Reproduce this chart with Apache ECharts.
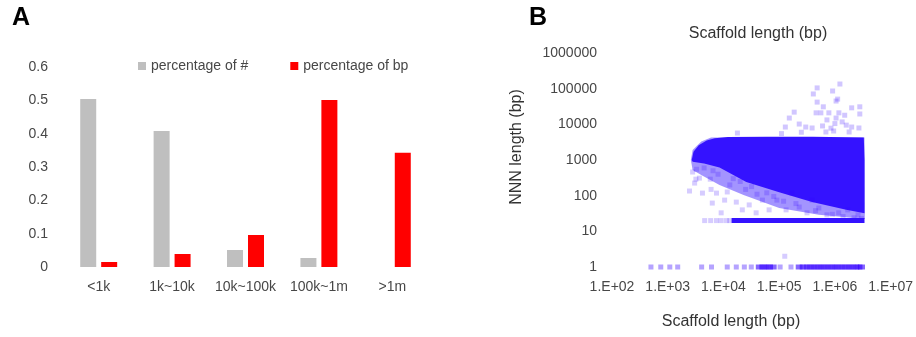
<!DOCTYPE html>
<html>
<head>
<meta charset="utf-8">
<script src="https://cdn.jsdelivr.net/npm/echarts@6/dist/echarts.min.js"></script>
<style>
  html, body { margin: 0; padding: 0; background: #ffffff; }
  #chart { width: 916px; height: 337px; }
</style>
</head>
<body>
<div id="chart"></div>
<script>
// ---- Panel A: scaffold size classes ----
const sizeClasses = ['<1k', '1k~10k', '10k~100k', '100k~1m', '>1m'];
const pctCount = [0.504, 0.408, 0.051, 0.027, 0];
const pctBp = [0.015, 0.039, 0.096, 0.501, 0.343];

// ---- Panel B: NNN gap length vs scaffold length (bp) ----
// dense body of the cloud, outlined as [scaffold length, NNN length]
const cloudHalo = [
  [2600, 1000], [2800, 1900], [4000, 3300], [6000, 4300], [3400000, 4300],
  [3450000, 22], [515000, 29], [100000, 45], [23000, 105], [8500, 200],
  [4000, 380], [2800, 525]
];
const cloudCore = [
  [2700, 1000], [2900, 1700], [3600, 2600], [5000, 3500], [7000, 4100],
  [12000, 4400], [60000, 4500], [400000, 4500], [3300000, 4300],
  [3400000, 1000], [3400000, 60], [3400000, 32], [1600000, 40],
  [390000, 66], [100000, 125], [25700, 240], [8500, 620], [4500, 800], [2800, 900]
];
// minimum gap run at 20 bp
const gapFloorRun = [[14000, 20], [3400000, 20]];
// scattered long gaps above the cloud
const highGaps = [
  [1230000, 135000], [480000, 105000], [410000, 71000], [910000, 86000],
  [1120000, 51000], [1050000, 45000], [480000, 42000], [620000, 31000],
  [2000000, 29000], [2800000, 31000], [2800000, 19500], [460000, 21000],
  [186000, 22000], [152000, 15000], [1180000, 21000], [780000, 21000],
  [560000, 21000], [720000, 13300], [1050000, 15000], [1350000, 11700],
  [229000, 10200], [129000, 8400], [300000, 8400], [390000, 7900],
  [2000000, 8400], [2700000, 7900], [1600000, 9500], [850000, 7800],
  [17800, 5700], [690000, 6100], [1800000, 6100], [1000000, 10500],
  [600000, 9000], [1500000, 18000], [950000, 6500], [250000, 6000], [110000, 5500]
];
// scattered short gaps below the cloud
const lowGaps = [
  [2460, 135], [4200, 118], [3040, 225], [2800, 460], [3700, 310], [7500, 118],
  [6300, 62], [10500, 75], [9100, 33], [11700, 127], [17000, 66], [21800, 40],
  [29000, 55], [38600, 33], [50000, 75], [66000, 40], [91000, 75], [133000, 40],
  [170000, 118], [229000, 48], [316000, 33], [390000, 75], [515000, 45],
  [720000, 29], [1170000, 33], [1700000, 40], [2600000, 29], [3200, 290],
  [5800, 290], [6000, 150], [13000, 200], [8000, 400], [25000, 150], [40000, 110],
  [4500, 600], [6500, 500], [3300, 550], [15000, 300], [20000, 250], [32000, 180],
  [60000, 120], [80000, 95], [120000, 70], [200000, 60], [450000, 38],
  [900000, 30], [1400000, 26], [2200000, 24], [3000000, 23],
  [4600, 20], [5900, 20], [7500, 20], [9100, 20], [11300, 20], [13000, 20],
  [126000, 2]
];
// single-N gaps
const oneGapsSparse = [
  [500, 1], [750, 1], [1090, 1], [1510, 1], [4060, 1], [6100, 1], [11700, 1],
  [17000, 1], [23700, 1], [31600, 1], [104000, 1], [163000, 1]
];
const oneGapsDense = [
  [44000, 1], [51000, 1], [58400, 1], [67000, 1], [78000, 1], [229000, 1],
  [270000, 1], [316000, 1], [365000, 1], [422000, 1], [490000, 1], [563000, 1],
  [650000, 1], [750000, 1], [870000, 1], [1000000, 1], [1150000, 1], [1330000, 1],
  [1540000, 1], [1780000, 1], [2050000, 1], [2370000, 1], [2700000, 1], [3000000, 1]
];

const FONT = 'Liberation Sans, Arial, sans-serif';
const TEXT = '#474747';
const BLUE = '#3412ff';

function outlineRenderer(vertices, fill) {
  return function (params, api) {
    if (params.dataIndex !== 0) return null;
    return {
      type: 'polygon',
      shape: { points: vertices.map(v => api.coord(v)) },
      style: { fill: fill }
    };
  };
}

const chart = echarts.init(document.getElementById('chart'), null, { renderer: 'canvas' });

chart.setOption({
  animation: false,
  backgroundColor: '#ffffff',
  textStyle: { fontFamily: FONT },
  graphic: [
    { type: 'text', left: 12, top: 6, style: { text: 'A', font: 'bold 25px ' + FONT, fill: '#000' } },
    { type: 'text', left: 529, top: 6, style: { text: 'B', font: 'bold 25px ' + FONT, fill: '#000' } },
    { type: 'text', x: 758, y: 34, style: { text: 'Scaffold length (bp)', font: '16px ' + FONT, fill: '#333', textAlign: 'center', textVerticalAlign: 'middle' } },
    { type: 'text', x: 731, y: 322, style: { text: 'Scaffold length (bp)', font: '16px ' + FONT, fill: '#333', textAlign: 'center', textVerticalAlign: 'middle' } },
    { type: 'text', x: 517, y: 147, rotation: Math.PI / 2, style: { text: 'NNN length (bp)', font: '16px ' + FONT, fill: '#333', textAlign: 'center', textVerticalAlign: 'middle' } }
  ],
  legend: {
    data: ['percentage of #', 'percentage of bp'],
    left: 133,
    top: 54,
    icon: 'rect',
    itemWidth: 8,
    itemHeight: 8,
    itemGap: 42,
    textStyle: { color: TEXT, fontSize: 14, fontFamily: FONT }
  },
  grid: [
    { left: 62, top: 67, width: 367, height: 200 },
    { left: 612, top: 53, width: 280, height: 214 }
  ],
  xAxis: [
    {
      gridIndex: 0, type: 'category', data: sizeClasses,
      axisLine: { show: false }, axisTick: { show: false },
      axisLabel: { color: TEXT, fontSize: 14, margin: 13, interval: 0 }
    },
    {
      gridIndex: 1, type: 'log', logBase: 10, min: 100, max: 10000000, interval: 1,
      axisLine: { show: false }, axisTick: { show: false }, splitLine: { show: false },
      axisLabel: {
        color: TEXT, fontSize: 14, margin: 13,
        formatter: v => '1.E+' + String(Math.round(Math.log10(v))).padStart(2, '0')
      }
    }
  ],
  yAxis: [
    {
      gridIndex: 0, type: 'value', min: 0, max: 0.6, interval: 0.1,
      axisLine: { show: false }, axisTick: { show: false }, splitLine: { show: false },
      axisLabel: { color: TEXT, fontSize: 14, margin: 14, formatter: v => (Math.round(v * 10) / 10).toString() }
    },
    {
      gridIndex: 1, type: 'log', logBase: 10, min: 1, max: 1000000, interval: 1,
      axisLine: { show: false }, axisTick: { show: false }, splitLine: { show: false },
      axisLabel: { color: TEXT, fontSize: 14, margin: 15, formatter: v => String(Math.round(v)) }
    }
  ],
  series: [
    {
      name: 'percentage of #', type: 'bar', xAxisIndex: 0, yAxisIndex: 0,
      data: pctCount, barWidth: 16, barGap: '31%',
      itemStyle: { color: '#bfbfbf' }
    },
    {
      name: 'percentage of bp', type: 'bar', xAxisIndex: 0, yAxisIndex: 0,
      data: pctBp, barWidth: 16, barGap: '31%',
      itemStyle: { color: '#ff0000' }
    },
    {
      type: 'custom', xAxisIndex: 1, yAxisIndex: 1, data: cloudHalo,
      renderItem: outlineRenderer(cloudHalo, 'rgba(52,18,255,0.45)'), silent: true
    },
    {
      type: 'custom', xAxisIndex: 1, yAxisIndex: 1, data: cloudCore,
      renderItem: outlineRenderer(cloudCore, BLUE), silent: true
    },
    {
      type: 'line', xAxisIndex: 1, yAxisIndex: 1, data: gapFloorRun,
      symbol: 'none', lineStyle: { color: BLUE, width: 5, cap: 'butt' }, silent: true
    },
    {
      type: 'scatter', xAxisIndex: 1, yAxisIndex: 1, data: highGaps,
      symbol: 'rect', symbolSize: 5, itemStyle: { color: 'rgba(51,0,255,0.28)' }
    },
    {
      type: 'scatter', xAxisIndex: 1, yAxisIndex: 1, data: lowGaps,
      symbol: 'rect', symbolSize: 5, itemStyle: { color: 'rgba(51,0,255,0.25)' }
    },
    {
      type: 'scatter', xAxisIndex: 1, yAxisIndex: 1, data: oneGapsSparse,
      symbol: 'rect', symbolSize: 5, itemStyle: { color: 'rgba(51,0,255,0.45)' }
    },
    {
      type: 'scatter', xAxisIndex: 1, yAxisIndex: 1, data: oneGapsDense,
      symbol: 'rect', symbolSize: [7, 5], itemStyle: { color: 'rgba(51,0,255,0.75)' }
    }
  ]
});
</script>
</body>
</html>
